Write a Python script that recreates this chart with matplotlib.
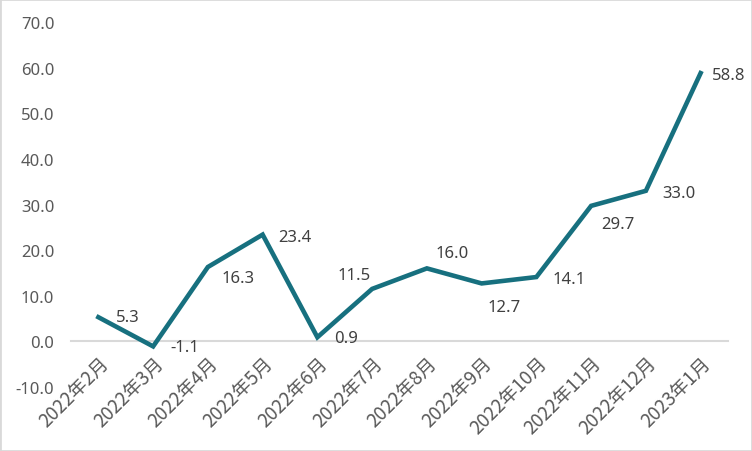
import numpy as np
import matplotlib.pyplot as plt
from matplotlib.patches import Rectangle

months = ['2022年2月', '2022年3月', '2022年4月', '2022年5月', '2022年6月', '2022年7月',
          '2022年8月', '2022年9月', '2022年10月', '2022年11月', '2022年12月', '2023年1月']
values = [5.3, -1.1, 16.3, 23.4, 0.9, 11.5, 16.0, 12.7, 14.1, 29.7, 33.0, 58.8]
yticks = [-10, 0, 10, 20, 30, 40, 50, 60, 70]

# label offsets in pixels (left edge, centre) relative to each point
label_dx = [18, 17, 14, 16, 17, -35, 9, 6, 16, 10, 16, 11]
label_dy = [0, -1, -11, -2, -1, 14, 15, -24, -2, -18, -2, -2]

plt.rcParams['font.family'] = ['Noto Sans', 'Noto Sans CJK SC', 'DejaVu Sans']

fig = plt.figure(figsize=(7.52, 4.52), dpi=100)
ax = fig.add_axes([71 / 752, 1 - 388 / 452, 657 / 752, 365 / 452])

x = np.arange(len(months))
ax.plot(x, values, color='#17707F', lw=3.3, solid_joinstyle='miter', zorder=3)

for xi, v, dx, dy in zip(x, values, label_dx, label_dy):
    ax.annotate(f'{v:.1f}', (xi, v), xytext=(dx, dy), textcoords='offset pixels',
                ha='left', va='center', fontsize=12, color='#404040')

ax.spines['bottom'].set_position(('data', 0))
ax.spines['bottom'].set_color('#D9D9D9')
ax.spines['bottom'].set_linewidth(1.5)
for s in ['left', 'right', 'top']:
    ax.spines[s].set_visible(False)
ax.tick_params(axis='both', length=0)
ax.tick_params(axis='y', pad=12)
ax.tick_params(axis='x', pad=8)

ax.set_xlim(-0.5, len(months) - 0.5)
ax.set_ylim(-10, 70)
ax.set_yticks(yticks)
ax.set_yticklabels([f'{t:.1f}' for t in yticks], fontsize=12, color='#595959')
ax.set_xticks(x)
ax.set_xticklabels(months, rotation=45, ha='right', rotation_mode='anchor',
                   fontsize=13.5, color='#595959', fontweight='light',
                   family=['Noto Sans CJK SC', 'DejaVu Sans'])

fig.patches.append(Rectangle((0, 0), 1, 1, transform=fig.transFigure, fill=False,
                             edgecolor='#D9D9D9', lw=2))

fig.savefig('out.png', dpi=100)
